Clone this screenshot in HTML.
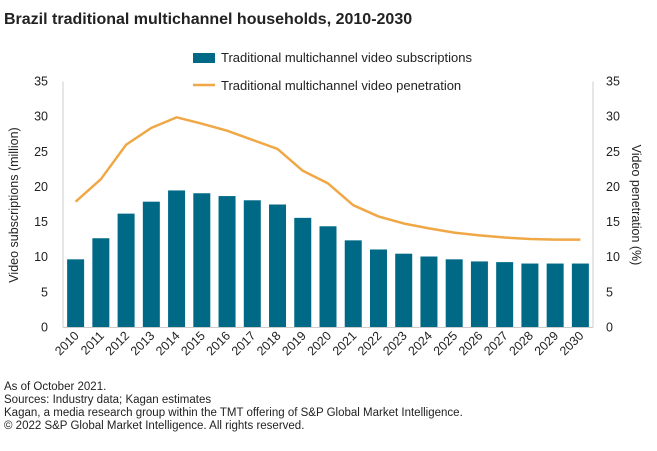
<!DOCTYPE html>
<html><head><meta charset="utf-8"><style>
body{margin:0;background:#fff;font-family:"Liberation Sans",sans-serif;}
svg text{font-family:"Liberation Sans",sans-serif;fill:#222;}
</style></head><body>
<svg id="c" width="657" height="446">
<text x="4" y="24" font-size="16" font-weight="bold">Brazil traditional multichannel households, 2010-2030</text>
<rect x="193" y="53" width="22" height="10" fill="#006a86"/>
<text x="221" y="62" font-size="13">Traditional multichannel video subscriptions</text>
<line x1="193" y1="85" x2="215" y2="85" stroke="#f0a847" stroke-width="2.5"/>
<text x="221" y="90" font-size="13">Traditional multichannel video penetration</text>
<text transform="translate(18,205) rotate(-90)" text-anchor="middle" font-size="12.5">Video subscriptions (million)</text>
<text transform="translate(632,205) rotate(90)" text-anchor="middle" font-size="12.5">Video penetration (%)</text>
<g id="g"></g>
<text x="4" y="390" font-size="11.5">As of October 2021.</text>
<text x="4" y="403" font-size="11.5">Sources: Industry data; Kagan estimates</text>
<text x="4" y="416" font-size="11.5">Kagan, a media research group within the TMT offering of S&amp;P Global Market Intelligence.</text>
<text x="4" y="429" font-size="11.5">© 2022 S&amp;P Global Market Intelligence. All rights reserved.</text>
</svg>
<script>
const years=[2010,2011,2012,2013,2014,2015,2016,2017,2018,2019,2020,2021,2022,2023,2024,2025,2026,2027,2028,2029,2030];
const subs=[9.7,12.7,16.2,17.9,19.5,19.1,18.7,18.1,17.5,15.6,14.4,12.4,11.1,10.5,10.1,9.7,9.4,9.3,9.1,9.1,9.1];
const pen=[17.9,21.1,26.0,28.4,29.9,29.0,28.0,26.7,25.4,22.3,20.5,17.4,15.8,14.8,14.1,13.5,13.1,12.8,12.6,12.5,12.5];
const ticks=[0,5,10,15,20,25,30,35];
const NS="http://www.w3.org/2000/svg",g=document.getElementById('g');
const x0=63,x1=593,yb=327.5,yt=81.5;
const y=v=>yb-(v/35)*(yb-yt);
const step=(x1-x0)/years.length;
const xc=i=>x0+step*(i+0.5);
function mk(t,a){const e=document.createElementNS(NS,t);for(const k in a)e.setAttribute(k,a[k]);g.appendChild(e);return e;}
ticks.forEach(t=>{
 let e=mk('text',{x:48,y:y(t)+4,'text-anchor':'end','font-size':12.5});e.textContent=t;
 
 
 e=mk('text',{x:606,y:y(t)+4,'font-size':12.5});e.textContent=t;
 
 
});
let ax=mk('line',{x1:x0,y1:yt,x2:x0,y2:yb,stroke:'#ccc'});


ax=mk('line',{x1:x1,y1:yt,x2:x1,y2:yb,stroke:'#ccc'});


years.forEach((yr,i)=>{
 const b=mk('rect',{x:xc(i)-8.5,y:y(subs[i]),width:17,height:yb-y(subs[i]),fill:'#006a86'});
 
 
 const t=mk('text',{transform:`translate(${xc(i)+4},${yb+9}) rotate(-45)`,'text-anchor':'end','font-size':12.5});
 t.textContent=yr;
 
 
});
ax=mk('line',{x1:x0,y1:yb,x2:x1,y2:yb,stroke:'#ccc'});


const ln=mk('polyline',{points:pen.map((v,i)=>xc(i)+','+y(v)).join(' '),fill:'none',stroke:'#f0a847','stroke-width':2.5,'stroke-linejoin':'round'});


</script>
</body></html>
